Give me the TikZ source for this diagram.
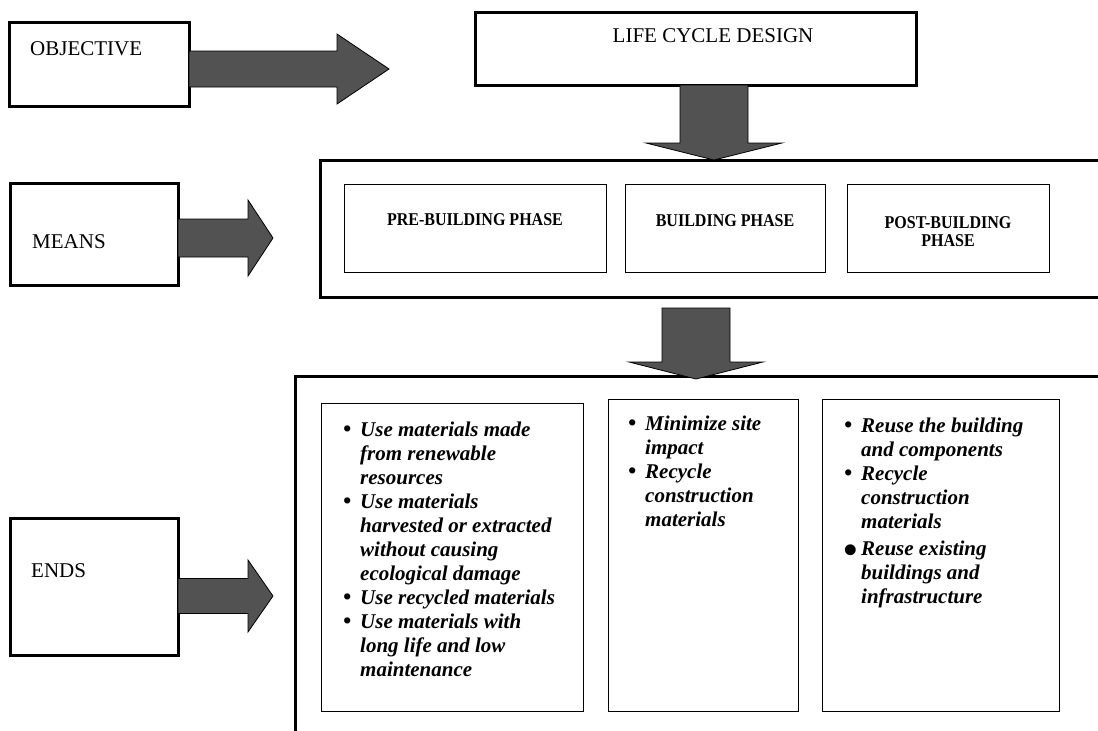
\documentclass[tikz,border=0pt]{standalone}
\usepackage{fontspec}
\setmainfont{Liberation Serif}
\usetikzlibrary{calc}
\newcommand\hblock[5]{\draw[blk] ($(#1 |- #2)+(0,-#3)$) -- ($(#2)+(-#5,-#3)$) -- ($(#2)+(-#5,-#4)$) -- (#2) -- ($(#2)+(-#5,#4)$) -- ($(#2)+(-#5,#3)$) -- ($(#1 |- #2)+(0,#3)$) -- cycle;}
\newcommand\vblock[5]{\draw[blk] ($(#2 |- #1)+(-#3,0)$) -- ($(#2)+(-#3,-#5)$) -- ($(#2)+(-#4,-#5)$) -- (#2) -- ($(#2)+(#4,-#5)$) -- ($(#2)+(#3,-#5)$) -- ($(#2 |- #1)+(#3,0)$) -- cycle;}
\newcommand\bu{\makebox[17pt][l]{\fontsize{23}{23}\selectfont\raisebox{0pt}{\textbullet}}}
\newcommand\bbu{\makebox[17pt][l]{\hspace*{-1pt}\fontsize{40}{40}\selectfont\raisebox{-8pt}{\textbullet}}}
\newcommand\nb{\hspace*{17pt}}
\begin{document}
\begin{tikzpicture}[x=1pt,y=-1pt,
  hbox/.style={draw, line width=3pt, anchor=north west, inner sep=0pt, outer sep=0pt},
  pbox/.style={draw, line width=1pt, anchor=north west, inner sep=0pt, outer sep=0pt},
  blk/.style={draw=black, line width=0.8pt, fill=black!68, line join=miter},
  head/.style={font=\fontsize{21}{24}\selectfont, anchor=base west, inner sep=0pt},
  phase/.style={font=\bfseries\fontsize{18}{18}\selectfont, anchor=base, inner sep=0pt},
  bl/.style={font=\bfseries\itshape\fontsize{21}{24}\selectfont, anchor=base west, inner sep=0pt}]
\clip (0,0) rectangle (1098,731);
\fill[white] (0,0) rectangle (1098,731);

% left boxes
\node[hbox, minimum width=180, minimum height=84] (obj) at (9,22) {};
\node[hbox, minimum width=168, minimum height=102] (msm) at (10,183) {};
\node[hbox, minimum width=168, minimum height=137] (esm) at (10,518) {};
\node[head] (objt) at (30,55) {OBJECTIVE};
\node[head] (meant) at (32,248) {MEANS};
\node[head] (endt) at (31,577) {ENDS};

% life cycle design
\node[hbox, minimum width=441, minimum height=73] (lcd) at (475,12) {};
\node[head, anchor=base] (lcdt) at (713,42) {LIFE CYCLE DESIGN};

% means outer and phases
\node[hbox, minimum width=820, minimum height=137] (mo) at (320,160) {};
\node[pbox, minimum width=262, minimum height=88] (pre) at (344,184) {};
\node[pbox, minimum width=200, minimum height=88] (bld) at (625,184) {};
\node[pbox, minimum width=202, minimum height=88] (post) at (847,184) {};
\node[phase] (pret) at (475,225) {\scalebox{0.89}[1]{PRE-BUILDING PHASE}};
\node[phase] (bldt) at (725,226) {\scalebox{0.89}[1]{BUILDING PHASE}};
\node[phase] (postt) at (948,228) {\scalebox{0.89}[1]{\begin{tabular}[t]{@{}c@{}}POST-BUILDING\\PHASE\end{tabular}}};

% ends outer and content boxes
\node[hbox, minimum width=830, minimum height=420] (eo) at (295,376) {};
\node[pbox, minimum width=262, minimum height=308] (e1) at (321,403) {};
\node[pbox, minimum width=190, minimum height=312] (e2) at (608,399) {};
\node[pbox, minimum width=237, minimum height=312] (e3) at (822,399) {};

\node[bl] (e1t) at (343,436) {\begin{tabular}[t]{@{}l@{}}
\bu Use materials made\\
\nb from renewable\\
\nb resources\\
\bu Use materials\\
\nb harvested or extracted\\
\nb without causing\\
\nb ecological damage\\
\bu Use recycled materials\\
\bu Use materials with\\
\nb long life and low\\
\nb maintenance
\end{tabular}};
\node[bl] (e2t) at (628,430) {\begin{tabular}[t]{@{}l@{}}
\bu Minimize site\\
\nb impact\\
\bu Recycle\\
\nb construction\\
\nb materials
\end{tabular}};
\node[bl] (e3t) at (844,432) {\begin{tabular}[t]{@{}l@{}}
\bu Reuse the building\\
\nb and components\\
\bu Recycle\\
\nb construction\\
\nb materials\\[3pt]
\bbu Reuse existing\\
\nb buildings and\\
\nb infrastructure
\end{tabular}};

% block arrows
\coordinate (t1) at (389,69);
\coordinate (t2) at (273,238);
\coordinate (t3) at (273,596);
\coordinate (t4) at (714,160);
\coordinate (t5) at (696,379);
\coordinate (s5) at (696,308);
\hblock{obj.east}{t1}{18}{35}{52}
\hblock{msm.east}{t2}{19}{38}{25}
\hblock{esm.east}{t3}{17.5}{36}{25}
\vblock{lcd.south}{t4}{34}{68}{17}
\vblock{s5}{t5}{34}{67}{17}
\end{tikzpicture}
\end{document}
